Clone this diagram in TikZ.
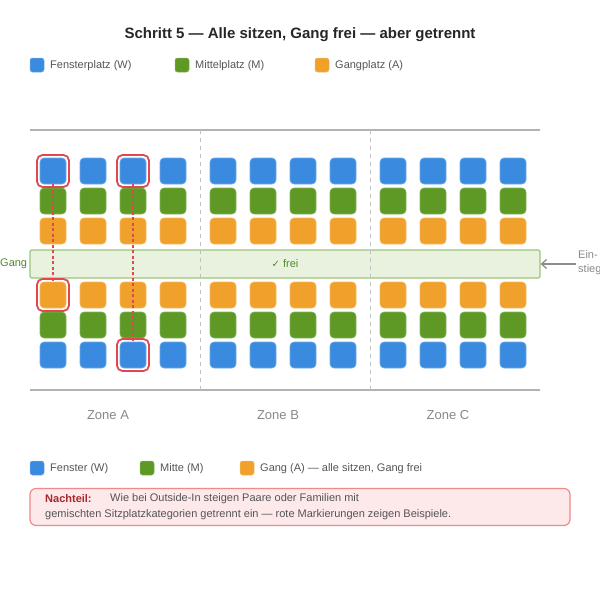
\documentclass[tikz,border=0pt]{standalone}
\usepackage{fontspec}
\setmainfont{Liberation Sans}
\newfontfamily\symfont{DejaVu Sans}
\usetikzlibrary{arrows.meta}
\definecolor{cW}{HTML}{3A8BDF}
\definecolor{cM}{HTML}{5E9925}
\definecolor{cA}{HTML}{F0A12C}
\definecolor{txt}{HTML}{555555}
\definecolor{zone}{HTML}{888888}
\definecolor{hl}{HTML}{E0484E}
\definecolor{gangfill}{HTML}{E9F2DF}
\definecolor{gangdraw}{HTML}{9CC57A}
\definecolor{gangtxt}{HTML}{4E8A2A}
\definecolor{notefill}{HTML}{FDE8EA}
\definecolor{notedraw}{HTML}{F08A8A}
\definecolor{notehead}{HTML}{A82828}
\tikzset{
  seat/.style={minimum size=26pt, inner sep=0pt, rounded corners=4pt, fill=#1, draw=#1!75!white, line width=0.6pt},
  legbox/.style={minimum size=14pt, inner sep=0pt, rounded corners=2.5pt, fill=#1, draw=#1!75!white, line width=0.5pt},
  legtxt/.style={anchor=west, inner sep=0pt, font=\fontsize{11}{13}\selectfont, text=txt},
  hlbox/.style={minimum size=32pt, inner sep=0pt, rounded corners=5.5pt, draw=hl, line width=1.8pt},
  link/.style={draw=hl, line width=1.3pt, dash pattern=on 3pt off 2.5pt},
  zonelbl/.style={font=\fontsize{13}{15}\selectfont, text=zone},
  frame/.style={draw=black!30, line width=1.2pt},
  divider/.style={draw=black!25, line width=1pt, dash pattern=on 4pt off 4pt},
}
\begin{document}
\begin{tikzpicture}[x=1pt,y=-1pt]
\useasboundingbox (0,0) rectangle (600,600);
% title
\node[font=\bfseries\fontsize{15}{18}\selectfont, text=black!85] (title) at (300,35) {Schritt 5 — Alle sitzen, Gang frei — aber getrennt};
% top legend
\node[legbox=cW] (lw) at (37,65) {};
\node[legtxt] (lwt) at (50,65.5) {Fensterplatz (W)};
\node[legbox=cM] (lm) at (182,65) {};
\node[legtxt] (lmt) at (195,65.5) {Mittelplatz (M)};
\node[legbox=cA] (la) at (322,65) {};
\node[legtxt] (lat) at (335,65.5) {Gangplatz (A)};
% frame lines
\coordinate (ft1) at (30,130); \coordinate (ft2) at (540,130);
\coordinate (fb1) at (30,390); \coordinate (fb2) at (540,390);
\draw[frame] (ft1) -- (ft2);
\draw[frame] (fb1) -- (fb2);
% gang band
\node[draw=gangdraw, fill=gangfill, line width=1.2pt, rounded corners=2pt, minimum width=510pt, minimum height=28pt, inner sep=0pt] (gang) at (285,264) {};
\node[font=\fontsize{11}{13}\selectfont, text=gangtxt] (frei) at (285,263.5) {{\symfont\fontsize{10}{12}\selectfont ✓} frei};
\node[font=\fontsize{11}{13}\selectfont, text=gangtxt, anchor=west, inner sep=0pt] (ganglbl) at (0,264) {Gang};
% seats
\foreach \c/\x in {1/53,2/93,3/133,4/173,5/223,6/263,7/303,8/343,9/393,10/433,11/473,12/513}{
  \node[seat=cW] (s1-\c) at (\x,171) {};
  \node[seat=cM] (s2-\c) at (\x,201) {};
  \node[seat=cA] (s3-\c) at (\x,231) {};
  \node[seat=cA] (s4-\c) at (\x,295) {};
  \node[seat=cM] (s5-\c) at (\x,325) {};
  \node[seat=cW] (s6-\c) at (\x,355) {};
}
% dividers
\coordinate (d1t) at (200,130); \coordinate (d1b) at (200,390);
\coordinate (d2t) at (370,130); \coordinate (d2b) at (370,390);
\draw[divider] (d1t) -- (d1b);
\draw[divider] (d2t) -- (d2b);
% highlights
\node[hlbox] (h1) at (s1-1) {};
\node[hlbox] (h2) at (s4-1) {};
\node[hlbox] (h3) at (s1-3) {};
\node[hlbox] (h4) at (s6-3) {};
\draw[link] (s1-1.south) -- (s4-1.north);
\draw[link] (s1-3.south) -- (s6-3.north);
% entrance
\coordinate (ein) at (576,264);
\draw[-{Straight Barb[length=5pt,width=9pt]}, draw=black!45, line width=1.3pt] (ein) -- (gang.east);
\node[anchor=north west, inner sep=0pt, align=left, font=\fontsize{11}{14.5}\selectfont, text=zone] (einl) at (578,250) {Ein-\\stieg};
% zone labels
\node[zonelbl] (za) at (108,415) {Zone A};
\node[zonelbl] (zb) at (278,415) {Zone B};
\node[zonelbl] (zc) at (448,415) {Zone C};
% bottom legend
\node[legbox=cW] (bw) at (37,468) {};
\node[legtxt] (bwt) at (50,468.5) {Fenster (W)};
\node[legbox=cM] (bm) at (147,468) {};
\node[legtxt] (bmt) at (160,468.5) {Mitte (M)};
\node[legbox=cA] (ba) at (247,468) {};
\node[legtxt] (bat) at (260,468.5) {Gang (A) — alle sitzen, Gang frei};
% note
\node[draw=notedraw, fill=notefill, line width=1.2pt, rounded corners=6pt, minimum width=540pt, minimum height=37pt, inner sep=0pt] (note) at (300,507) {};
\node[anchor=west, inner sep=0pt, font=\bfseries\fontsize{11}{13}\selectfont, text=notehead] (nh) at (45,499) {Nachteil:};
\node[anchor=west, inner sep=0pt, font=\fontsize{11}{13}\selectfont, text=txt] (n1) at (110,499) {Wie bei Outside-In steigen Paare oder Familien mit};
\node[anchor=west, inner sep=0pt, font=\fontsize{11}{13}\selectfont, text=txt] (n2) at (45,515) {gemischten Sitzplatzkategorien getrennt ein — rote Markierungen zeigen Beispiele.};
\end{tikzpicture}
\end{document}
